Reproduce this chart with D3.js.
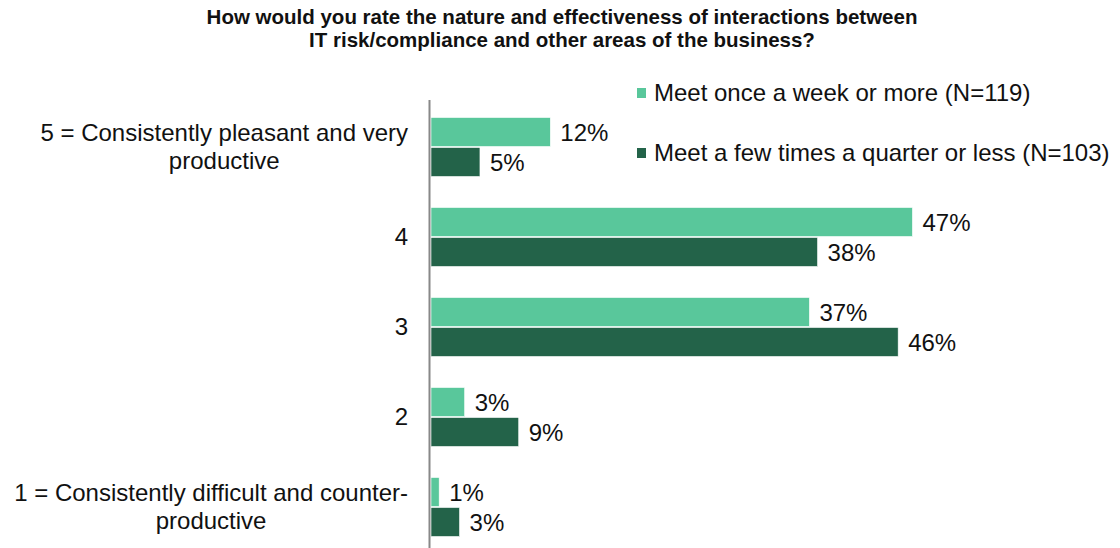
<!DOCTYPE html>
<html>
<head>
<meta charset="utf-8">
<script src="https://cdn.jsdelivr.net/npm/d3@7"></script>
<style>
  body { margin: 0; background: #fff; }
  svg { display: block; font-family: "Liberation Sans", Arial, sans-serif; }
</style>
</head>
<body>
<svg id="mainSvg" width="1120" height="548"></svg>
<script>
// categories, top to bottom
let categories = [
    ['5 = Consistently pleasant and very', 'productive'],
    ['4'],
    ['3'],
    ['2'],
    ['1 = Consistently difficult and counter-', 'productive']
]
let seriesNames = ['Meet once a week or more (N=119)', 'Meet a few times a quarter or less (N=103)']
// bar lengths (percent)
let weeklyValues = [11.7, 47.2, 37.1, 3.3, 0.8]
let quarterlyValues = [4.8, 37.9, 45.8, 8.6, 2.8]
// printed labels
let weeklyLabels = ['12%', '47%', '37%', '3%', '1%']
let quarterlyLabels = ['5%', '38%', '46%', '9%', '3%']
let colors = ['#59C79B', '#236349']
let titleLines = [
    'How would you rate the nature and effectiveness of interactions between',
    'IT risk/compliance and other areas of the business?'
]

let svg = d3.select('#mainSvg')

// title
svg.append('g').selectAll('text')
    .data(titleLines)
    .enter()
    .append('text')
    .attr('x', 562)
    .attr('y', (d, i) => 24 + i * 23)
    .attr('text-anchor', 'middle')
    .attr('font-size', 20.5)
    .attr('font-weight', 'bold')
    .attr('fill', '#111')
    .text(d => d)

let y = d3.scaleBand()
    .domain(d3.range(categories.length))
    .range([102, 552])

let x = d3.scaleLinear()
    .domain([0, 50])
    .range([431, 941])

let series = [
    { name: seriesNames[0], values: weeklyValues, labels: weeklyLabels, color: colors[0] },
    { name: seriesNames[1], values: quarterlyValues, labels: quarterlyLabels, color: colors[1] }
]

let barH = 29
series.forEach(function (s, si) {
    let g = svg.append('g').attr('class', 'series-' + si)
    g.selectAll('rect')
        .data(s.values)
        .enter()
        .append('rect')
        .attr('x', x(0))
        .attr('y', (d, i) => y(i) + y.bandwidth() / 2 - barH - 0.5 + si * (barH + 1))
        .attr('width', d => x(d) - x(0))
        .attr('height', barH)
        .attr('fill', s.color)
        .attr('stroke', '#fff')
        .attr('stroke-width', 0.6)

    g.selectAll('text')
        .data(s.values)
        .enter()
        .append('text')
        .attr('x', d => x(d) + 10)
        .attr('y', (d, i) => y(i) + y.bandwidth() / 2 - barH / 2 + si * (barH + 1) + 8)
        .attr('font-size', 24)
        .attr('fill', '#111')
        .text((d, i) => s.labels[i])
})

// vertical axis line
svg.append('line')
    .attr('x1', 429.5).attr('x2', 429.5)
    .attr('y1', 100).attr('y2', 548)
    .attr('stroke', '#888')
    .attr('stroke-width', 2)

// category labels: block right-aligned, lines centred within block
let labelRight = 408
let cats = svg.append('g').attr('class', 'cats')
categories.forEach(function (lines, i) {
    let t = cats.append('text')
        .attr('font-size', 24)
        .attr('fill', '#111')
    let cy = y(i) + y.bandwidth() / 2
    let lineH = 28
    let spans = t.selectAll('tspan')
        .data(lines)
        .enter()
        .append('tspan')
        .attr('y', (d, j) => cy + 8 + (j - (lines.length - 1) / 2) * lineH)
        .text(d => d)
    let widest = 0
    spans.each(function () {
        widest = Math.max(widest, this.getComputedTextLength())
    })
    spans.attr('x', labelRight - widest / 2).attr('text-anchor', 'middle')
})

// legend
let legend = svg.append('g').attr('class', 'legend')
series.forEach(function (s, i) {
    let ly = 93 + i * 60
    legend.append('rect')
        .attr('x', 637).attr('y', ly - 5)
        .attr('width', 9).attr('height', 10)
        .attr('fill', s.color)
    legend.append('text')
        .attr('x', 654).attr('y', ly + 8)
        .attr('font-size', 24)
        .attr('fill', '#111')
        .text(s.name)
})
</script>
</body>
</html>
